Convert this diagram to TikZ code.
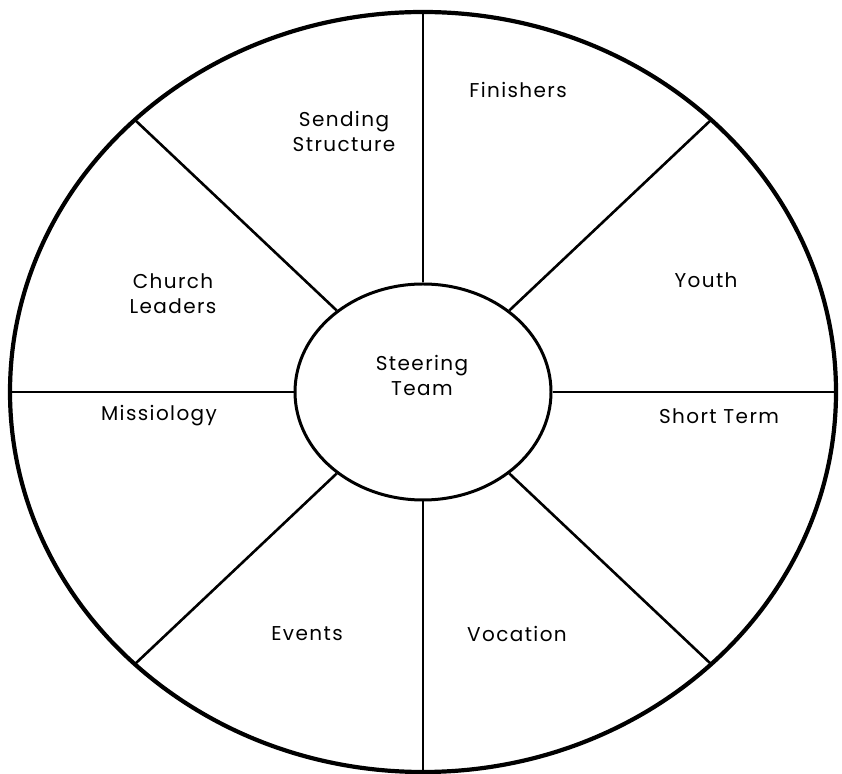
\documentclass[tikz,border=0pt]{standalone}
\usepackage{fontspec}
\setmainfont{Poppins}[LetterSpace=7]
\usetikzlibrary{shapes.geometric}
\begin{document}
\begin{tikzpicture}[x=1pt,y=1pt,
  rimstyle/.style={draw, ellipse, line width=4.2pt, inner sep=0pt},
  hubstyle/.style={draw, ellipse, line width=3pt, fill=white, inner sep=0pt, minimum width=256pt, minimum height=216pt},
  divider/.style={line width=2.6pt},
  lbl/.style={align=center, font=\fontsize{20}{25}\selectfont}]
\useasboundingbox (0,0) rectangle (842,773);
\node[rimstyle, minimum width=826pt, minimum height=760pt] (rim) at (423,381) {};
\node[hubstyle] (hub) at (423,381) {};
\coordinate (ot) at (423,761);
\coordinate (ob) at (423,1);
\coordinate (ol) at (10,381);
\coordinate (or) at (836,381);
\coordinate (oul) at (135,653);
\coordinate (our) at (711,653);
\coordinate (oll) at (135,109);
\coordinate (olr) at (711,109);
\foreach \p in {ot,ob,ol,or,oul,our,oll,olr}{
  \draw[divider] (hub) -- (\p);
}
\node[lbl] (steer) at (422,398) {Steering\\Team};
\node[lbl] (send) at (344,642) {Sending\\Structure};
\node[lbl] (fin) at (518,683) {Finishers};
\node[lbl] (church) at (173,479) {Church\\Leaders};
\node[lbl] (youth) at (706,493) {Youth};
\node[lbl] (miss) at (159,357) {Missiology};
\node[lbl] (short) at (719,357) {Short Term};
\node[lbl] (events) at (307,139) {Events};
\node[lbl] (voc) at (517,139) {Vocation};
\end{tikzpicture}
\end{document}
